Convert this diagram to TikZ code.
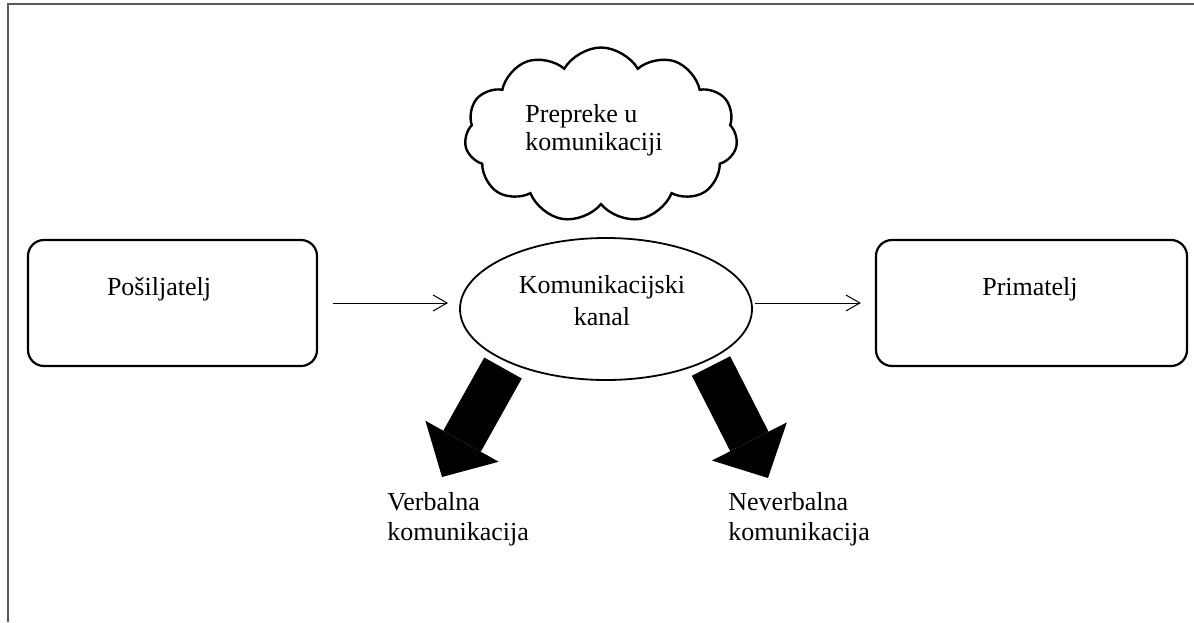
\documentclass[tikz,border=0pt]{standalone}
\usepackage{fontspec}
\setmainfont{Liberation Serif}
\usetikzlibrary{positioning,shapes.geometric,shapes.symbols,arrows.meta}

\begin{document}
\begin{tikzpicture}[x=0.5pt,y=-0.5pt,
  font=\fontsize{13}{16}\selectfont,
  kutija/.style={draw,line width=1.1pt,rounded corners=8pt,minimum width=144.5pt,minimum height=63pt,inner sep=0pt},
  tekst/.style={inner sep=0pt,anchor=base},
  tanka/.style={line width=0.5pt,-{Straight Barb[length=7pt,width=8pt]}},
  debela/.style={line width=21.5pt,-{Triangle[width=42pt,length=20.5pt,line width=0pt]}}]
\useasboundingbox (0,0) rectangle (1194,622);
\draw[line width=0.8pt,black!65] (8,622) -- (8,4) -- (1194,4);
\node (posiljatelj) [kutija] at (172.5,303) {};
\node (primatelj) [kutija,minimum width=155.5pt] at (1031.5,303) {};
\node (kanal) [ellipse,draw,line width=0.9pt,minimum width=146pt,minimum height=71pt,inner sep=0pt] at (606,309) {};
\node (prepreke) [cloud,draw,line width=1.2pt,cloud puffs=11,cloud puff arc=120,cloud ignores aspect,minimum width=136.5pt,minimum height=87.5pt,inner sep=0pt] at (601,135) {};
\node (posiljateljtxt) [tekst] at (159,295) {Pošiljatelj};
\node (primateljtxt) [tekst] at (1030,295) {Primatelj};
\node (kanaltxt) [tekst,align=center] at (602,325) {Komunikacijski\\kanal};
\node (preprekatxt) [tekst,anchor=base west,align=left,font=\fontsize{13}{14}\selectfont] at (525,150) {Prepreke u\\komunikaciji};
\node (verbalna) [tekst,anchor=base west,align=left,font=\fontsize{13}{15}\selectfont] at (387,540) {Verbalna\\komunikacija};
\node (neverbalna) [tekst,anchor=base west,align=left,font=\fontsize{13}{15}\selectfont] at (728,540) {Neverbalna\\komunikacija};
\draw[tanka] ([xshift=7.5pt]posiljatelj.east) -- ([xshift=-5.5pt]posiljatelj.east -| kanal.west);
\draw[tanka] ([xshift=1pt]primatelj.west -| kanal.east) -- ([xshift=-7pt]primatelj.west);
\coordinate (vpocetak) at (503,368);
\coordinate (vvrh) at (442,477);
\coordinate (npocetak) at (711,366);
\coordinate (nvrh) at (768,478);
\draw[debela] (vpocetak) -- (vvrh);
\draw[debela] (npocetak) -- (nvrh);
\end{tikzpicture}
\end{document}
